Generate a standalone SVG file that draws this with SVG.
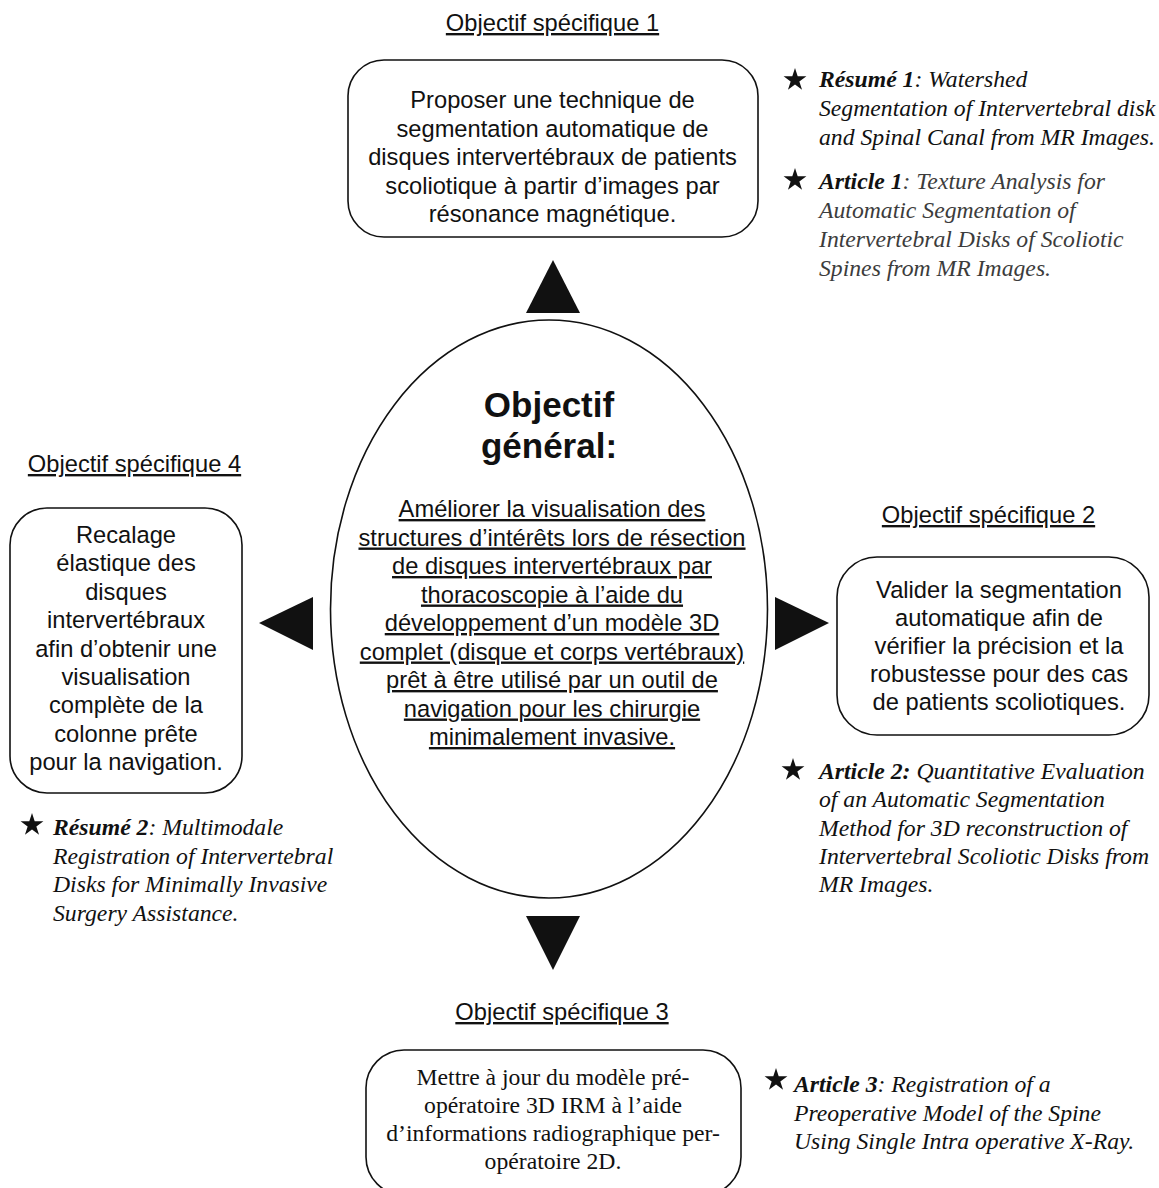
<svg xmlns="http://www.w3.org/2000/svg" xmlns:xlink="http://www.w3.org/1999/xlink" width="1159" height="1188" viewBox="0 0 1159 1188">
<style>
.sans{font-family:"Liberation Sans",Arial,sans-serif;font-size:23.7px;fill:#111;}
.mid{text-anchor:middle;}
.ul{text-decoration:underline;}
.ser{font-family:"Liberation Serif","Times New Roman",serif;font-size:23.7px;fill:#111;}
.it{font-style:italic;}
.bi{font-style:italic;font-weight:bold;}
.gray{fill:#3c3c3c;}
.box{fill:#fff;stroke:#111;stroke-width:1.6;}
.tri{fill:#111;stroke:none;}
.title{font-family:"Liberation Sans",Arial,sans-serif;font-weight:bold;font-size:35px;fill:#111;text-anchor:middle;}
</style>
<defs>
<polygon id="star" points="0,-12 2.7,-3.7 11.41,-3.7 4.35,1.42 7.05,9.71 0,4.58 -7.05,9.71 -4.35,1.42 -11.41,-3.7 -2.7,-3.7" fill="#111"/>
</defs>
<rect width="1159" height="1188" fill="#fff"/>

<g id="connectors">
<polygon class="tri" points="553,260 580,313 526,313"/>
<polygon class="tri" points="526,916 580,916 553,970"/>
<polygon class="tri" points="259,623 313,597 313,650"/>
<polygon class="tri" points="775,597 829,623 775,650"/>
</g>

<g id="general">
<ellipse class="box" cx="549" cy="609" rx="218.5" ry="289"/>
<text class="title" x="549" y="417">Objectif</text>
<text class="title" x="549" y="458">général:</text>
<g class="sans mid ul">
<text x="552" y="517">Améliorer la visualisation des</text>
<text x="552" y="545.5">structures d’intérêts lors de résection</text>
<text x="552" y="574">de disques intervertébraux par</text>
<text x="552" y="602.5">thoracoscopie à l’aide du</text>
<text x="552" y="631">développement d’un modèle 3D</text>
<text x="552" y="659.5">complet (disque et corps vertébraux)</text>
<text x="552" y="688">prêt à être utilisé par un outil de</text>
<text x="552" y="716.5">navigation pour les chirurgie</text>
<text x="552" y="745">minimalement invasive.</text>
</g>
</g>

<g id="obj1">
<text class="sans mid ul" x="552.5" y="31">Objectif spécifique 1</text>
<rect class="box" x="348" y="60" width="410" height="177" rx="36" ry="36"/>
<g class="sans mid">
<text x="552.5" y="108">Proposer une technique de</text>
<text x="552.5" y="136.5">segmentation automatique de</text>
<text x="552.5" y="165">disques intervertébraux de patients</text>
<text x="552.5" y="193.5">scoliotique à partir d’images par</text>
<text x="552.5" y="222">résonance magnétique.</text>
</g>
</g>

<g id="refs1">
<use xlink:href="#star" x="795" y="80"/>
<text class="ser" x="819" y="87"><tspan class="bi">Résumé 1</tspan><tspan class="it">: Watershed</tspan></text>
<text class="ser it" x="819" y="116">Segmentation of Intervertebral disk</text>
<text class="ser it" x="819" y="145">and Spinal Canal from MR Images.</text>
<use xlink:href="#star" x="795" y="180"/>
<text class="ser" x="819" y="189"><tspan class="bi">Article 1</tspan><tspan class="it gray">: Texture Analysis for</tspan></text>
<text class="ser it gray" x="819" y="218">Automatic Segmentation of</text>
<text class="ser it gray" x="819" y="247">Intervertebral Disks of Scoliotic</text>
<text class="ser it gray" x="819" y="276">Spines from MR Images.</text>
</g>

<g id="obj2">
<text class="sans mid ul" x="988.5" y="523">Objectif spécifique 2</text>
<rect class="box" x="837" y="557" width="312" height="178" rx="40" ry="40"/>
<g class="sans mid">
<text x="999" y="598">Valider la segmentation</text>
<text x="999" y="626">automatique afin de</text>
<text x="999" y="654">vérifier la précision et la</text>
<text x="999" y="682">robustesse pour des cas</text>
<text x="999" y="710">de patients scoliotiques.</text>
</g>
</g>

<g id="refs2">
<use xlink:href="#star" x="793" y="770"/>
<text class="ser" x="819" y="779"><tspan class="bi">Article 2:</tspan><tspan class="it"> Quantitative Evaluation</tspan></text>
<text class="ser it" x="819" y="807">of an Automatic Segmentation</text>
<text class="ser it" x="819" y="835.5">Method for 3D reconstruction of</text>
<text class="ser it" x="819" y="864">Intervertebral Scoliotic Disks from</text>
<text class="ser it" x="819" y="892">MR Images.</text>
</g>

<g id="obj4">
<text class="sans mid ul" x="134.5" y="472">Objectif spécifique 4</text>
<rect class="box" x="10" y="508" width="232" height="285" rx="37" ry="37"/>
<g class="sans mid">
<text x="126" y="543">Recalage</text>
<text x="126" y="571.4">élastique des</text>
<text x="126" y="599.8">disques</text>
<text x="126" y="628.2">intervertébraux</text>
<text x="126" y="656.6">afin d’obtenir une</text>
<text x="126" y="685">visualisation</text>
<text x="126" y="713.4">complète de la</text>
<text x="126" y="741.8">colonne prête</text>
<text x="126" y="770.2">pour la navigation.</text>
</g>
</g>

<g id="refs4">
<use xlink:href="#star" x="32" y="825"/>
<text class="ser" x="53" y="835"><tspan class="bi">Résumé 2</tspan><tspan class="it">: Multimodale</tspan></text>
<text class="ser it" x="53" y="863.5">Registration of Intervertebral</text>
<text class="ser it" x="53" y="892">Disks for Minimally Invasive</text>
<text class="ser it" x="53" y="920.5">Surgery Assistance.</text>
</g>

<g id="obj3">
<text class="sans mid ul" x="562" y="1020">Objectif spécifique 3</text>
<rect class="box" x="366" y="1050" width="375" height="145" rx="38" ry="38"/>
<g class="ser mid">
<text x="553" y="1085">Mettre à jour du modèle pré-</text>
<text x="553" y="1113">opératoire 3D IRM à l’aide</text>
<text x="553" y="1141">d’informations radiographique per-</text>
<text x="553" y="1169">opératoire 2D.</text>
</g>
</g>

<g id="refs3">
<use xlink:href="#star" x="776" y="1080"/>
<text class="ser" x="794" y="1092"><tspan class="bi">Article 3</tspan><tspan class="it">: Registration of a</tspan></text>
<text class="ser it" x="794" y="1121">Preoperative Model of the Spine</text>
<text class="ser it" x="794" y="1149">Using Single Intra operative X-Ray.</text>
</g>
</svg>
